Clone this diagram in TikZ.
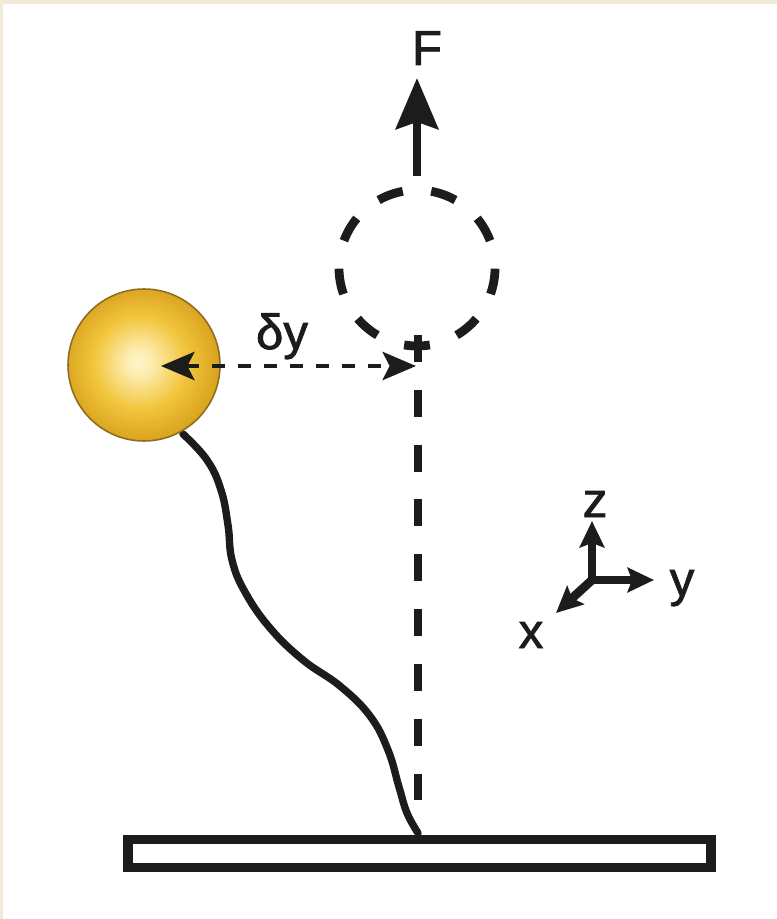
\documentclass[tikz,border=0pt]{standalone}
\usepackage{fontspec}
\setmainfont{Liberation Sans}
\newfontfamily\lblfont{Liberation Sans}[FakeBold=1.6]
\usetikzlibrary{arrows.meta}

\definecolor{frame}{HTML}{F3EBD9}
\definecolor{ink}{HTML}{1C1C1C}
\definecolor{ballhi}{HTML}{FFF6CC}
\definecolor{ballmid}{HTML}{F2C63E}
\definecolor{ballrim}{HTML}{DBA520}
\definecolor{balledge}{HTML}{8E6E1E}

% bead: soft radial gradient, light centre, golden rim
\pgfdeclareradialshading{goldsphere}{\pgfpoint{-2bp}{1bp}}{%
  color(0bp)=(ballhi); color(5bp)=(ballhi!75!ballmid);
  color(15bp)=(ballmid); color(25bp)=(ballrim); color(50bp)=(ballrim)}

\tikzset{
  lbl/.style={text=ink, font=\lblfont\fontsize{28}{33}\selectfont, inner sep=0pt},
  bead/.style={circle, minimum size=3.04cm, inner sep=0pt, draw=balledge,
               line width=0.9pt, shading=goldsphere},
  ghostarc/.style={draw=ink, line width=5pt},
  forcearrow/.style={draw=ink, line width=4.8pt,
               -{Stealth[length=29pt,width=24pt,inset=4pt]}},
  offsetarrow/.style={draw=ink, line width=2.6pt,
               dash pattern=on 7.4pt off 7.4pt,
               {Stealth[length=19pt,width=16pt,inset=4pt]}-{Stealth[length=19pt,width=16pt,inset=4pt]}},
  axisline/.style={draw=ink, line width=5.1pt, dash pattern=on 15.3pt off 15.9pt},
  tether/.style={draw=ink, line width=4.2pt, line cap=round, line join=round},
  plate/.style={draw=ink, line width=5.5pt, fill=white},
  frameaxis/.style={draw=ink, line width=5pt,
               -{Stealth[length=15pt,width=14pt,inset=2.5pt]}},
}

\begin{document}
\begin{tikzpicture}[x=0.02cm, y=-0.02cm]
  % page with a cream strip along the top and left edges
  \fill[frame] (0,0) rectangle (777,919);
  \fill[white] (3,4) rectangle (777,919);
  \useasboundingbox (0,0) rectangle (777,919);

  % surface plate
  \node[plate, minimum width=11.66cm, minimum height=0.56cm, inner sep=0pt]
    (plate) at (419.5,853.5) {};

  % equilibrium position (dashed circle) and pulling force
  \coordinate (ghost) at (417,268);
  \foreach \k in {0,...,8}{
    \pgfmathsetmacro{\a}{90+40*\k}
    \draw[ghostarc] (ghost) ++(\a-9.5:78) arc[start angle=\a-9.5, delta angle=19, radius=78];
  }
  \coordinate (ftail) at (417,176);
  \coordinate (ftip) at (417,78);
  \draw[forcearrow] (ftail) -- (ftip);
  \node[lbl, anchor=base] (F) at (427,65) {F};

  % vertical reference line from the plate to the equilibrium point
  \coordinate (vtop) at (418,335);
  \coordinate (vbot) at (418,802);
  \draw[axisline] (vtop) -- (vbot);

  % tether from the bead down to the plate
  \coordinate (anchor) at (418,833);
  \draw[tether] plot[smooth, tension=0.7] coordinates {
    (183,434) (207,460) (221,490) (228,525) (232,560) (245,592)
    (270,628) (303,660) (340,686) (370,716) (388,750) (399,787)
    (407,813) (418,833)};

  % bead
  \node[bead] (bead) at (144,365) {};

  % lateral offset
  \coordinate (dyL) at (161,366);
  \coordinate (dyR) at (416,366);
  \draw[offsetarrow] (dyL) -- (dyR);
  \node[lbl, anchor=base] (dy) at (282,349) {δy};

  % coordinate frame
  \coordinate (o) at (592,580);
  \coordinate (zt) at (592,521);
  \coordinate (yt) at (654,580);
  \coordinate (xt) at (556,613);
  \draw[frameaxis] ([yshift=-2.5pt]o) -- (zt);
  \draw[frameaxis] ([xshift=-2.5pt]o) -- (yt);
  \draw[frameaxis] (o) -- (xt);
  \node[lbl, anchor=base] (zl) at (595,517) {z};
  \node[lbl, anchor=base] (yl) at (682,596) {y};
  \node[lbl, anchor=base] (xl) at (531,648) {x};
\end{tikzpicture}
\end{document}
